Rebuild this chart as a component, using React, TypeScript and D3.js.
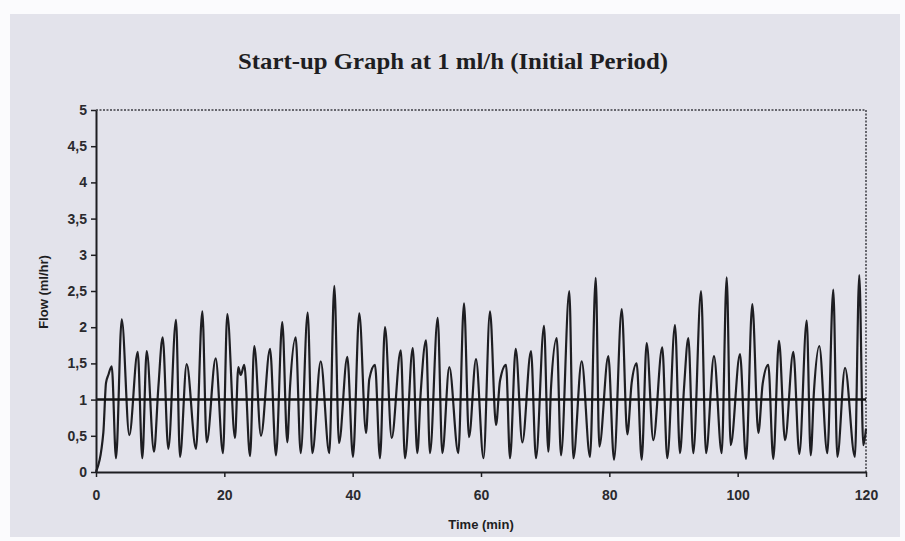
import { useEffect, useRef } from 'react';
import * as d3 from 'd3';

// Flow readings (turning points of the trace)
const timeMin = [
  0, 1.14, 1.56, 1.92, 2.45, 3.12, 4.01, 5.19, 6.5, 7.22, 7.9, 9.04, 9.71, 10.39, 11.27, 12.47, 13.09, 14.13, 15.58, 16.57, 17.25, 18.65, 19.79,
  20.46, 21.66, 22.18, 22.55, 23.11, 24.0, 24.67, 25.71, 27.12, 28.05, 29.03, 29.81, 30.23, 31.12, 31.9, 32.99, 33.71, 35.02, 36.36, 37.14, 37.87, 39.16, 40.05,
  41.03, 42.08, 42.59, 43.48, 44.26, 45.04, 46.08, 47.49, 48.16, 49.36, 50.07, 50.6, 51.43, 52.05, 53.25, 53.97, 55.06, 56.46, 57.35, 58.13, 59.22, 60.39,
  61.4, 62.34, 62.96, 63.9, 64.52, 65.41, 66.44, 67.79, 68.57, 69.82, 70.49, 70.91, 71.8, 72.47, 73.76, 74.39, 75.69, 76.99, 77.88, 78.44, 79.84, 80.73,
  81.93, 82.8, 83.48, 84.26, 85.04, 85.82, 86.85, 88.25, 89.03, 90.23, 91.01, 91.64, 92.31, 93.09, 94.29, 95.07, 96.31, 97.51, 98.29, 98.91, 100.36, 101.3,
  102.28, 103.22, 103.9, 104.77, 105.55, 106.44, 107.38, 108.67, 109.61, 110.76, 111.38, 111.9, 112.72, 113.97, 114.9, 115.53, 116.73, 118.27, 118.95, 119.58, 120,
];
const flow = [
  0, 0.54, 1.23, 1.34, 1.46, 0.19, 2.11, 0.51, 1.66, 0.19, 1.67, 0.28, 1.16, 1.86, 0.32, 2.1, 0.21, 1.49, 0.32, 2.22, 0.41, 1.57, 0.26,
  2.18, 0.47, 1.45, 1.34, 1.48, 0.22, 1.74, 0.5, 1.7, 0.23, 2.07, 0.41, 1.16, 1.86, 0.26, 2.2, 0.26, 1.53, 0.26, 2.57, 0.4, 1.59, 0.21,
  2.19, 0.54, 1.28, 1.48, 0.19, 2.0, 0.47, 1.68, 0.19, 1.71, 0.26, 1.09, 1.82, 0.26, 2.13, 0.26, 1.45, 0.26, 2.33, 0.48, 1.56, 0.19,
  2.22, 0.65, 1.26, 1.48, 0.19, 1.7, 0.41, 1.67, 0.19, 2.02, 0.28, 1.16, 1.85, 0.23, 2.5, 0.19, 1.53, 0.21, 2.68, 0.35, 1.6, 0.17,
  2.25, 0.52, 1.23, 1.5, 0.17, 1.78, 0.44, 1.72, 0.19, 2.03, 0.26, 1.16, 1.85, 0.26, 2.5, 0.26, 1.6, 0.26, 2.69, 0.37, 1.63, 0.18,
  2.32, 0.54, 1.22, 1.48, 0.18, 1.81, 0.44, 1.66, 0.25, 2.09, 0.23, 1.13, 1.74, 0.26, 2.52, 0.21, 1.44, 0.21, 2.72, 0.37, 0.6,
];
const targetFlow = 1;
const xTicks = [0, 20, 40, 60, 80, 100, 120];
const yTicks = [0, 0.5, 1, 1.5, 2, 2.5, 3, 3.5, 4, 4.5, 5];

const W = 905;
const H = 541;

export default function App() {
  const svgRef = useRef<SVGSVGElement>(null);

  useEffect(() => {
    document.body.style.margin = '0';
    if (!svgRef.current) return;
    const svg = d3.select(svgRef.current);
    svg.selectAll('*').remove();

    const left = 96, right = 866, top = 110, bottom = 472;
    const x = d3.scaleLinear().domain([0, 120]).range([left, right]);
    const y = d3.scaleLinear().domain([0, 5]).range([bottom, top]);
    const ink = '#1e1e22';
    const sans = 'Liberation Sans, Arial, sans-serif';

    // paper
    svg.append('rect').attr('width', W).attr('height', H).attr('fill', '#fbfbfd');
    svg.append('rect')
      .attr('x', 10).attr('y', 14).attr('width', 890).attr('height', 523)
      .attr('fill', '#e3e3eb');

    // title
    svg.append('text')
      .attr('x', 453).attr('y', 69)
      .attr('text-anchor', 'middle')
      .attr('font-family', 'Liberation Serif, Times New Roman, serif')
      .attr('font-weight', 700)
      .attr('font-size', 24)
      .attr('textLength', 430)
      .attr('lengthAdjust', 'spacingAndGlyphs')
      .attr('fill', ink)
      .text('Start-up Graph at 1 ml/h (Initial Period)');

    // dotted plot border (top and right)
    svg.append('path')
      .attr('d', `M${left},${top}H${right}V${bottom}`)
      .attr('fill', 'none')
      .attr('stroke', '#3e3e44')
      .attr('stroke-width', 1.5)
      .attr('stroke-dasharray', '2,1.5');

    // data trace
    const line = d3.line<number>()
      .x((_, i) => x(timeMin[i]))
      .y(d => y(d))
      .curve(d3.curveMonotoneX);

    svg.append('path')
      .datum(flow)
      .attr('d', line)
      .attr('fill', 'none')
      .attr('stroke', ink)
      .attr('stroke-width', 2.2)
      .attr('stroke-linejoin', 'round');

    // target line at 1 ml/h
    svg.append('line')
      .attr('x1', x(0)).attr('x2', x(120))
      .attr('y1', y(targetFlow)).attr('y2', y(targetFlow))
      .attr('stroke', '#111')
      .attr('stroke-width', 2.5);

    // axes
    const yAxis = svg.append('g').attr('transform', `translate(${left},0)`)
      .call(d3.axisLeft(y).tickValues(yTicks).tickSize(5).tickSizeOuter(0)
        .tickFormat(d => String(d).replace('.', ',')));
    const xAxis = svg.append('g').attr('transform', `translate(0,${bottom})`)
      .call(d3.axisBottom(x).tickValues(xTicks).tickSize(5).tickSizeOuter(0));

    [yAxis, xAxis].forEach(a => {
      a.select('.domain').attr('stroke', ink).attr('stroke-width', 2);
      a.selectAll('.tick line').attr('stroke', ink).attr('stroke-width', 1.5);
      a.selectAll('.tick text')
        .attr('fill', '#2a2a2e')
        .attr('font-family', sans)
        .attr('font-weight', 700)
        .attr('font-size', 14);
    });
    yAxis.selectAll('.tick text').attr('x', -9);
    xAxis.selectAll('.tick text').attr('y', 18);

    // axis titles
    svg.append('text')
      .attr('transform', 'translate(48,292) rotate(-90)')
      .attr('text-anchor', 'middle')
      .attr('font-family', sans)
      .attr('font-weight', 700)
      .attr('font-size', 13)
      .attr('fill', ink)
      .text('Flow (ml/hr)');

    svg.append('text')
      .attr('x', 481).attr('y', 529)
      .attr('text-anchor', 'middle')
      .attr('font-family', sans)
      .attr('font-weight', 700)
      .attr('font-size', 13)
      .attr('fill', ink)
      .text('Time (min)');
  }, []);

  return <svg ref={svgRef} width={W} height={H} style={{ display: 'block' }} />;
}
